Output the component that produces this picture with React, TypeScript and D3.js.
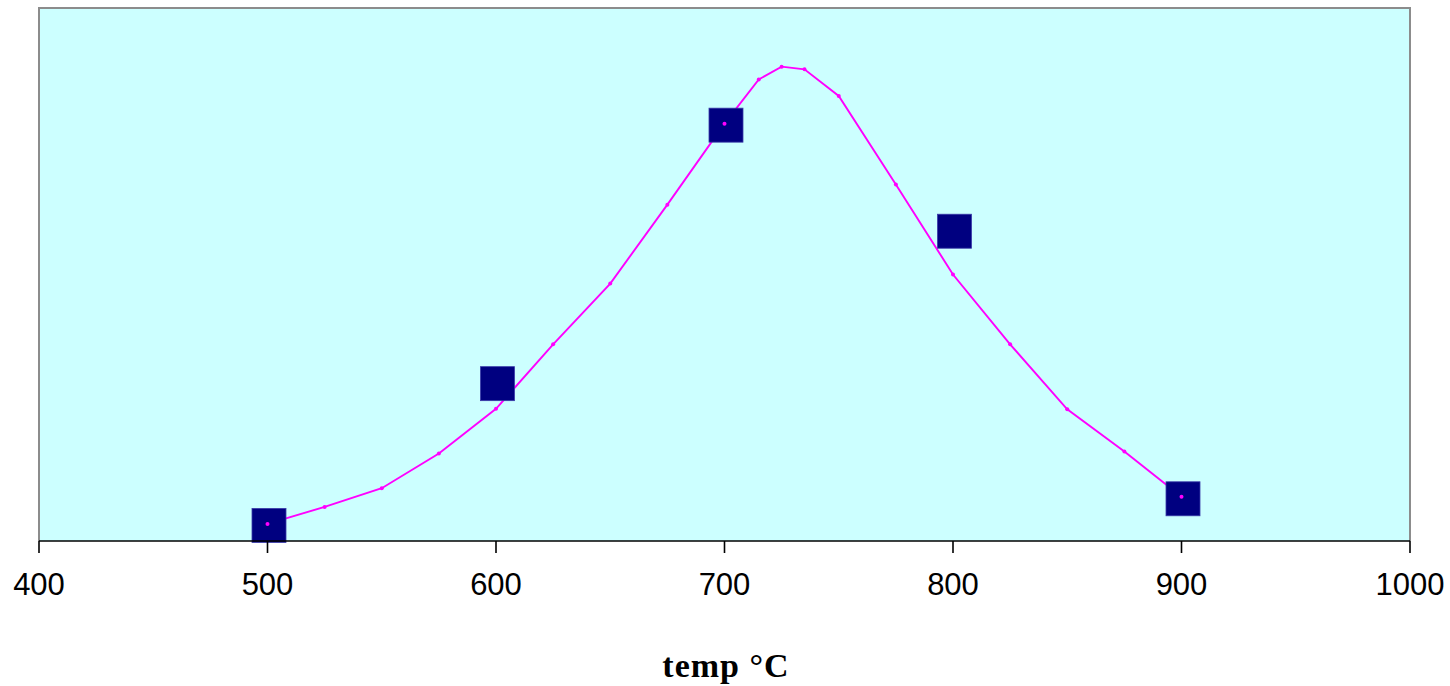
import React from "react";
import * as d3 from "d3";

const curveTemps = [500, 525, 550, 575, 600, 625, 650, 675, 700, 715, 725, 735, 750, 775, 800, 825, 850, 875, 900];
const curveValues = [3.2, 6.4, 9.9, 16.4, 24.8, 36.9, 48.3, 63.1, 78.3, 86.6, 89.0, 88.5, 83.5, 66.9, 50.0, 36.9, 24.7, 16.8, 8.3];

const measuredTemps = [500, 600, 700, 800, 900];
const measuredValues = [3.2, 29.8, 78.3, 58.4, 8.2];

const xTicks = [400, 500, 600, 700, 800, 900, 1000];
const xTitle = "temp °C";

const W = 1450;
const H = 686;
const left = 39;
const right = 1410;
const top = 8;
const bottom = 541;

export default function App() {
  const x = d3.scaleLinear().domain([400, 1000]).range([left, right]);
  const y = d3.scaleLinear().domain([0, 100]).range([bottom, top]);

  const pts = curveTemps.map((t, i) => [t, curveValues[i]] as [number, number]);
  const line = d3
    .line<[number, number]>()
    .x((d) => x(d[0]))
    .y((d) => y(d[1]));

  const sq = 34;

  return (
    <div style={{ position: "absolute", left: 0, top: 0 }}>
      <svg width={W} height={H} style={{ display: "block" }}>
        <rect x={0} y={0} width={W} height={H} fill="#ffffff" />
        <rect x={left} y={top} width={right - left} height={bottom - top} fill="#CCFFFF" />
        <path
          d={`M${left},${bottom} V${top} H${right} V${bottom}`}
          fill="none"
          stroke="#8c8c8c"
          strokeWidth={2}
        />
        <path d={line(pts) || ""} fill="none" stroke="#FF00FF" strokeWidth={1.9} />
        {measuredTemps.map((t, i) => (
          <rect
            key={"s" + i}
            x={x(t) - sq / 2 + 1.5}
            y={y(measuredValues[i]) - sq / 2 + 1.5}
            width={sq}
            height={sq}
            fill="#000080"
            stroke="#3a3aa8"
            strokeWidth={0.8}
          />
        ))}
        {pts.map((p, i) => (
          <circle key={"p" + i} cx={x(p[0])} cy={y(p[1])} r={2} fill="#FF00FF" />
        ))}
        <line x1={left} x2={right} y1={bottom} y2={bottom} stroke="#000000" strokeWidth={1.6} />
        {xTicks.map((t) => (
          <g key={"t" + t}>
            <line x1={x(t)} x2={x(t)} y1={bottom} y2={bottom + 12} stroke="#000000" strokeWidth={1.6} />
            <text
              x={x(t)}
              y={595}
              textAnchor="middle"
              fontFamily="Liberation Sans, Arial, sans-serif"
              fontSize={31}
              fill="#000000"
            >
              {t}
            </text>
          </g>
        ))}
        <text
          x={726}
          y={677}
          textAnchor="middle"
          fontFamily="Liberation Serif, Times New Roman, serif"
          fontWeight="bold"
          fontSize={34}
          letterSpacing={1}
          fill="#000000"
        >
          {xTitle}
        </text>
      </svg>
    </div>
  );
}
